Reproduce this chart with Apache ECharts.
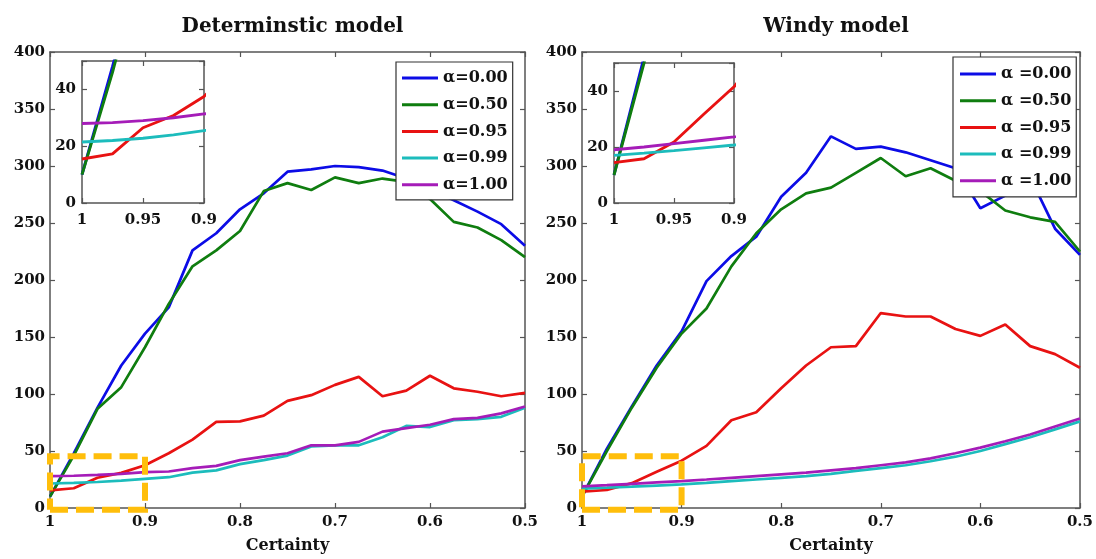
<!DOCTYPE html>
<html><head><meta charset="utf-8">
<script src="https://cdn.jsdelivr.net/npm/echarts@6/dist/echarts.min.js"></script>
<style>html,body{margin:0;padding:0;background:#fff}#c{width:1096px;height:559px}</style>
</head><body><div id="c"></div>
<script>
// ---- data ----
const certainty = [1.000,0.975,0.950,0.925,0.900,0.875,0.850,0.825,0.800,0.775,0.750,0.725,0.700,0.675,0.650,0.625,0.600,0.575,0.550,0.525,0.500];
const detNames  = ['α=0.00','α=0.50','α=0.95','α=0.99','α=1.00'];
const windNames = ['α =0.00','α =0.50','α =0.95','α =0.99','α =1.00'];
const titles = ['Determinstic model','Windy model'];
const xTitle = 'Certainty';
// Deterministic model
const detA000 = [10, 48, 88, 125, 153, 176, 226, 241, 262, 276, 295, 297, 300, 299, 296, 289, 280, 270, 260, 249, 230];
const detA050 = [10, 46, 87, 106, 141, 179, 212, 226, 243, 278, 285, 279, 290, 285, 289, 286, 271, 251, 246, 235, 220];
const detA095 = [15.5, 17.3, 26.5, 30.8, 37.5, 48, 60, 75.5, 76, 81, 94, 99, 108, 115, 98, 103, 116, 105, 102, 98, 101];
const detA099 = [21.5, 22, 22.8, 24, 25.5, 27, 31, 33, 38.5, 42, 46, 54, 55, 55, 62, 72, 71, 77, 78, 80, 88];
const detA100 = [28, 28.3, 29, 30, 31.4, 32, 35, 37, 42, 45, 48, 55, 55, 58, 67, 70, 73, 78, 79, 83, 89];
// Windy model
const windA000 = [10, 52, 89, 125, 155, 199, 221, 238, 273, 294, 326, 315, 317, 312, 305, 298, 263, 274, 290, 245, 222];
const windA050 = [10, 50, 88, 123, 153, 175, 212, 241, 262, 276, 281, 294, 307, 291, 298, 287, 278, 261, 255, 251, 225];
const windA095 = [14.4, 15.8, 21.8, 31.8, 41.5, 54.5, 77, 84, 105, 125, 141, 142, 171, 168, 168, 157, 151, 161, 142, 135, 123];
const windA099 = [17, 17.8, 18.7, 19.7, 20.7, 22, 23.5, 25, 26.5, 28, 30, 32.5, 35, 37.5, 41, 45, 50, 56, 62, 69, 76];
const windA100 = [19, 20, 21.2, 22.4, 23.6, 25, 26.5, 28, 29.5, 31, 33, 35, 37.5, 40, 43.5, 48, 53, 58.5, 64.5, 71.5, 78.5];
// zoomed region marked on main plots
const zoomBoxX = [1, 0.9, 0.9, 1, 1];
const zoomBoxY = [-1.5, -1.5, 45.5, 45.5, -1.5];
const mainY = {min:0, max:400, interval:50};
const mainX = {min:0.5, max:1, interval:0.1};
const insetY = {min:0, max:50, interval:20, labelEvery:20};
const insetX = {min:0.9, max:1, interval:0.05};

// ---- style ----
const FONT = 'DejaVu Serif';
const AX = '#555';
const TXT = '#111';
const colors = ['#0c0ce6','#0f7d0f','#e81212','#1cbcbc','#a51cb8'];

const pairs = (vals) => certainty.map((c,i)=>[c, vals[i]]);
const detSeries = [detA000, detA050, detA095, detA099, detA100];
const windSeries = [windA000, windA050, windA095, windA099, windA100];

function xAx(grid, pos, r, labels, margin, name) {
  return {
    type:'value', gridIndex:grid, position:pos, min:r.min, max:r.max, interval:r.interval, inverse:true,
    axisLine:{show:true,onZero:false,lineStyle:{color:AX,width:1.5}},
    axisTick:{show:true,inside:true,length:5,lineStyle:{color:AX,width:1.2}},
    splitLine:{show:false},
    axisLabel:{show:labels, margin:margin, color:TXT, fontFamily:FONT, fontWeight:'bold', fontSize:15,
      formatter:v=>String(+(+v).toFixed(2))},
    name:name||'', nameLocation:'middle', nameGap:30,
    nameTextStyle:{color:TXT, fontFamily:FONT, fontWeight:'bold', fontSize:16}
  };
}
function yAx(grid, pos, r, labels, margin, every) {
  return {
    type:'value', gridIndex:grid, position:pos, min:r.min, max:r.max, interval:r.interval,
    axisLine:{show:true,onZero:false,lineStyle:{color:AX,width:1.5}},
    axisTick:{show:true,inside:true,length:5,lineStyle:{color:AX,width:1.2}},
    splitLine:{show:false},
    axisLabel:{show:labels, margin:margin, color:TXT, fontFamily:FONT, fontWeight:'bold', fontSize:15,
      formatter:v=> (every && v % every !== 0) ? '' : String(v)}
  };
}

const grids = [
  {left:50, top:52, width:475, height:456},
  {left:582, top:52, width:498, height:457},
  {left:82, top:61, width:122, height:142, show:true, backgroundColor:'#fff', borderWidth:0},
  {left:614, top:63, width:120, height:140, show:true, backgroundColor:'#fff', borderWidth:0}
];

const xAxes = [
  xAx(0,'bottom',mainX,true,7,xTitle), xAx(0,'top',mainX,false,0),
  xAx(1,'bottom',mainX,true,7,xTitle), xAx(1,'top',mainX,false,0),
  xAx(2,'bottom',insetX,true,10), xAx(2,'top',insetX,false,0),
  xAx(3,'bottom',insetX,true,10), xAx(3,'top',insetX,false,0)
];
const yAxes = [
  yAx(0,'left',mainY,true,5), yAx(0,'right',mainY,false,0),
  yAx(1,'left',mainY,true,5), yAx(1,'right',mainY,false,0),
  yAx(2,'left',insetY,true,6,insetY.labelEvery), yAx(2,'right',insetY,false,0),
  yAx(3,'left',insetY,true,6,insetY.labelEvery), yAx(3,'right',insetY,false,0)
];

const series = [];
function addLines(names, sets, axisIdx, width, z) {
  sets.forEach((vals,i)=>{
    series.push({
      type:'line', name:names[i], xAxisIndex:axisIdx, yAxisIndex:axisIdx,
      data:pairs(vals), symbol:'none', showSymbol:false, clip:true, animation:false, z:z,
      lineStyle:{color:colors[i], width:width}, itemStyle:{color:colors[i]}
    });
  });
}
addLines(detNames, detSeries, 0, 2.7, 3);
addLines(windNames, windSeries, 2, 2.7, 3);
addLines(detNames, detSeries, 4, 2.9, 6);
addLines(windNames, windSeries, 6, 2.9, 6);
[0,2].forEach(ai=>{
  series.push({
    type:'line', xAxisIndex:ai, yAxisIndex:ai, data:zoomBoxX.map((x,i)=>[x,zoomBoxY[i]]),
    symbol:'none', clip:false, silent:true, animation:false, z:8,
    lineStyle:{color:'#FFBE0B', width:6, type:[18,8], cap:'butt', join:'miter'}
  });
});

const legendBase = {
  orient:'vertical', backgroundColor:'#fff', borderColor:'#333', borderWidth:1.2,
  icon:'rect', itemWidth:36, itemHeight:3, itemGap:6.7, selectedMode:false,
  textStyle:{color:TXT, fontFamily:FONT, fontWeight:'bold', fontSize:16, lineHeight:20},
  z:10
};

const option = {
  animation:false,
  backgroundColor:'#fff',
  title:[
    {text:titles[0], left:287.5, top:12, textAlign:'center',
     textStyle:{color:TXT, fontFamily:FONT, fontWeight:'bold', fontSize:20}},
    {text:titles[1], left:831, top:12, textAlign:'center',
     textStyle:{color:TXT, fontFamily:FONT, fontWeight:'bold', fontSize:20}}
  ],
  legend:[
    Object.assign({}, legendBase, {data:detNames, left:396, top:62, padding:[6,5,5,6]}),
    Object.assign({}, legendBase, {data:windNames, left:953, top:57, padding:[7,5,6,7]})
  ],
  grid:grids,
  xAxis:xAxes,
  yAxis:yAxes,
  series:series
};
const chart = echarts.init(document.getElementById('c'), null, {renderer:'canvas'});
chart.setOption(option);
</script></body></html>
